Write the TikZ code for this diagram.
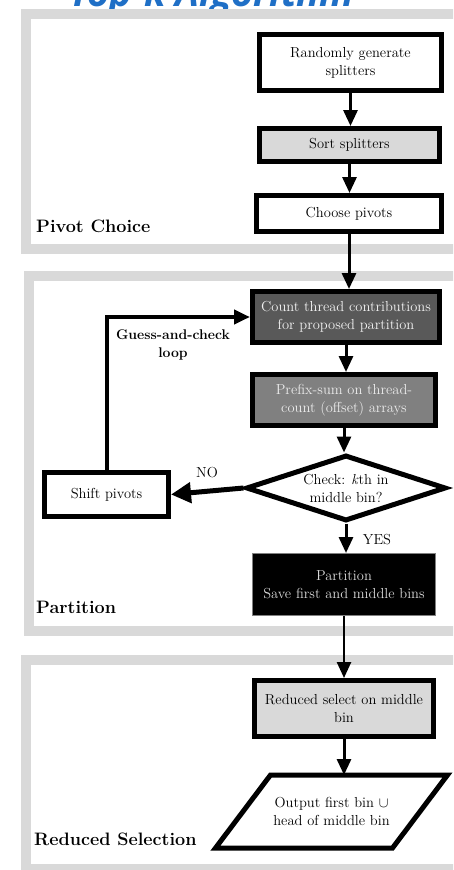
\documentclass[tikz,border=0pt]{standalone}
\usepackage{fontspec}
\newfontfamily\titlefont{Open Sans}
\usetikzlibrary{arrows.meta,shapes.geometric}
\definecolor{panelgray}{HTML}{D9D9D9}
\definecolor{titleblue}{HTML}{1F6FC6}
\definecolor{darkfill}{HTML}{595959}
\definecolor{midfill}{HTML}{808080}
\tikzset{
  box/.style={draw, line width=5pt, inner sep=0pt, align=center, font=\fontsize{14.5}{18}\selectfont},
  panel/.style={draw=panelgray, line width=10pt},
  flow/.style={-{Triangle[width=14pt,length=16pt]}, line width=3pt},
  tag/.style={anchor=west, inner sep=0pt, font=\fontsize{18}{22}\selectfont\bfseries},
  note/.style={inner sep=0pt, align=center, font=\fontsize{14.5}{18}\selectfont},
}
\begin{document}
\begin{tikzpicture}[x=1pt, y=-1pt]
 \clip (0,0) rectangle (453,870);
 % title, mostly cut off
 \node[anchor=base, inner sep=0pt, text=titleblue, font=\titlefont\fontsize{38}{40}\selectfont\bfseries\itshape] (title) at (212,6) {Top-k Algorithm};
 % panels
 \draw[panel] (26,14) rectangle (480,249);
 \draw[panel] (29,276) rectangle (480,631);
 \draw[panel] (26,660) rectangle (480,869);
 \node[tag] (pivottag) at (36,226) {Pivot Choice};
 \node[tag] (parttag) at (36,607) {Partition};
 \node[tag] (redtag) at (34,839) {Reduced Selection};
 % steps
 \node[box, minimum width=182pt, minimum height=56pt] (rand) at (350.5,62.5) {Randomly generate\\splitters};
 \node[box, fill=panelgray, minimum width=180pt, minimum height=33pt] (sort) at (349.5,145) {Sort splitters};
 \node[box, minimum width=185pt, minimum height=36pt] (choose) at (349,213.5) {Choose pivots};
 \node[box, fill=darkfill, text=white!95!black, minimum width=187pt, minimum height=51pt] (count) at (346,317) {Count thread contributions\\for proposed partition};
 \node[box, fill=midfill, text=white!92!black, minimum width=183pt, minimum height=51pt] (prefix) at (344,400) {Prefix-sum on thread-\\count (offset) arrays};
 \node[box, diamond, aspect=3, minimum width=200pt, minimum height=66pt] (check) at (346,488) {Check: \textit{k}th in\\middle bin?};
 \node[box, minimum width=124pt, minimum height=44pt] (shift) at (106.5,494.5) {Shift pivots};
 \node[box, line width=1pt, draw=gray, fill=black, text=panelgray, minimum width=183pt, minimum height=62pt] (part) at (344,584.5) {Partition\\Save first and middle bins};
 \node[box, fill=panelgray, minimum width=179pt, minimum height=56pt] (reduce) at (344,708.5) {Reduced select on middle\\bin};
 \node[box, draw=none, minimum width=172pt, minimum height=68pt] (output) at (331.5,811.5) {Output first bin $\cup$\\head of middle bin};
 \draw[line width=5pt] ([xshift=-27.5pt]output.south west) -- ([xshift=27.5pt]output.north west)
   -- ([xshift=27.5pt]output.north east) -- ([xshift=-27.5pt]output.south east) -- cycle;
 % connectors
 \draw[flow] (rand.south) -- (rand.south |- sort.north);
 \draw[flow] (sort.south) -- (sort.south |- choose.north);
 \draw[flow] (choose.south) -- (choose.south |- count.north);
 \draw[flow] (count.south) -- (count.south |- prefix.north);
 \draw[flow] (prefix.south) -- (prefix.south |- check.north);
 \draw[flow, line width=5pt, -{Triangle[width=20pt,length=20pt]}] (check.west) -- (shift.east);
 \draw[flow, line width=4pt] (shift.north) |- (count.west);
 \draw[flow] (check.south) -- (check.south |- part.north);
 \draw[flow, line width=2.5pt] (part.south) -- (part.south |- reduce.north);
 \draw[flow] (reduce.south) -- (reduce.south |- output.north);
 % labels
 \node[note, font=\fontsize{14}{18}\selectfont\bfseries] (looplabel) at (173,345) {Guess-and-check\\loop};
 \node[note] (nolabel) at (207,473) {NO};
 \node[note] (yeslabel) at (377,540) {YES};
\end{tikzpicture}
\end{document}
